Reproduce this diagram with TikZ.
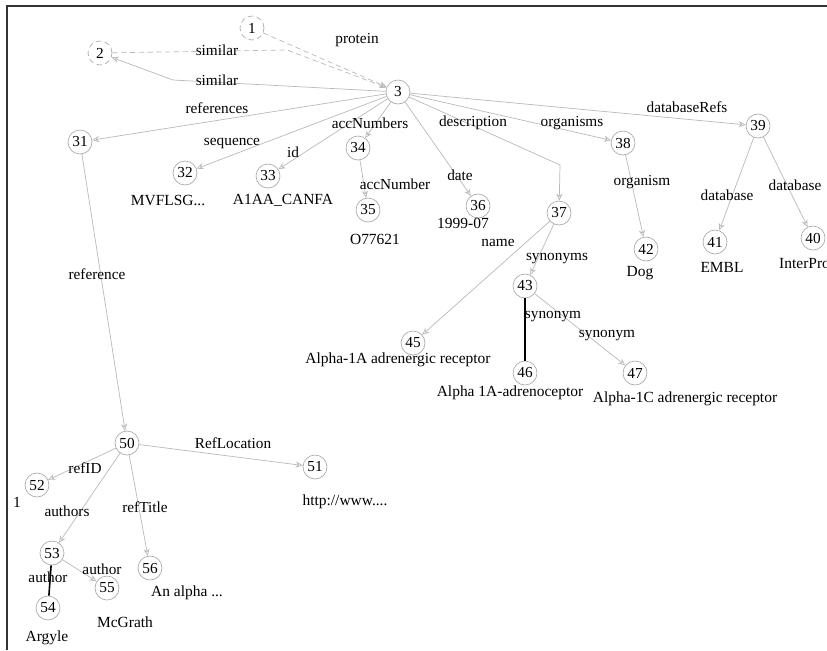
\documentclass[tikz,border=0pt]{standalone}
\usepackage{fontspec}
\setmainfont{Liberation Serif}
\usetikzlibrary{arrows.meta}

\tikzset{
  vertex/.style={circle,draw=gray!65,minimum size=0.48cm,inner sep=0pt,font=\fontsize{8.7}{9}\selectfont},
  ghost/.style={vertex,densely dashed},
  edge/.style={draw=gray!55,-{Stealth[open,length=4pt,width=3.5pt]}},
  link/.style={draw=black,line width=0.9pt},
  lbl/.style={inner sep=0.5pt,font=\fontsize{8.7}{9}\selectfont},
  val/.style={inner sep=0.5pt,font=\fontsize{8.8}{10}\selectfont}
}

\begin{document}
\begin{tikzpicture}[x=0.02cm,y=-0.02cm]

\useasboundingbox (0,0) rectangle (827,650);
% Frame:
\draw[black!80,line width=1.1pt] (7,650) -- (7,6) -- (827,6);

% Nodes:
\node[ghost] (n1) at (252,28) {1};
\node[ghost] (n2) at (100,53) {2};
\node[vertex] (n3) at (398,92) {3};
\node[vertex] (n31) at (80,142) {31};
\node[vertex] (n32) at (185,173) {32};
\node[vertex] (n33) at (268,176) {33};
\node[vertex] (n34) at (358,148) {34};
\node[vertex] (n35) at (368,210) {35};
\node[vertex] (n36) at (478,206) {36};
\node[vertex] (n37) at (559,213) {37};
\node[vertex] (n38) at (623,143) {38};
\node[vertex] (n39) at (758,126) {39};
\node[vertex] (n40) at (813,238) {40};
\node[vertex] (n41) at (715,242) {41};
\node[vertex] (n42) at (646,249) {42};
\node[vertex] (n43) at (525,286) {43};
\node[vertex] (n45) at (413,343) {45};
\node[vertex] (n46) at (525,373) {46};
\node[vertex] (n47) at (635,373) {47};
\node[vertex] (n50) at (127,443) {50};
\node[vertex] (n51) at (315,467) {51};
\node[vertex] (n52) at (37,485) {52};
\node[vertex] (n53) at (52,553) {53};
\node[vertex] (n54) at (48,608) {54};
\node[vertex] (n55) at (107,588) {55};
\node[vertex] (n56) at (150,568) {56};

% Values:
\node[val] (v32) at (168,200) {MVFLSG...};
\node[val] (v33) at (283,200) {A1AA\_CANFA};
\node[val] (v35) at (375,239) {O77621};
\node[val] (v36) at (463,223) {1999-07};
\node[val] (v45) at (398,360) {Alpha-1A adrenergic receptor};
\node[val] (v46) at (510,393) {Alpha 1A-adrenoceptor};
\node[val] (v47) at (685,399) {Alpha-1C adrenergic receptor};
\node[val] (v42) at (640,273) {Dog};
\node[val] (v41) at (722,267) {EMBL};
\node[val,anchor=west] (v40) at (778,264) {InterPro};
\node[val] (v51) at (345,502) {http://www....};
\node[val] (v52) at (17,502) {1};
\node[val] (v56) at (187,593) {An alpha ...};
\node[val] (v55) at (125,622) {McGrath};
\node[val] (v54) at (47,638) {Argyle};

% Edges:
\draw[edge,densely dashed] (n1) -- (n3);
\draw[edge,densely dashed] (n2) -- (287,50) -- (n3);
\draw[edge] (n3) -- (173,80) -- (n2);
\draw[edge] (n3) -- (n31);
\draw[edge] (n3) -- (n32);
\draw[edge] (n3) -- (n33);
\draw[edge] (n3) -- (n34);
\draw[edge] (n34) -- (n35);
\draw[edge] (n3) -- (n36);
\draw[edge] (n3) -- (560,165) -- (n37);
\draw[edge] (n3) -- (n38);
\draw[edge] (n3) -- (n39);
\draw[edge] (n38) -- (n42);
\draw[edge] (n39) -- (n41);
\draw[edge] (n39) -- (n40);
\draw[edge] (n37) -- (n45);
\draw[edge] (n37) -- (n43);
\draw[link] (n43) -- (n46);
\draw[edge] (n43) -- (n47);
\draw[edge] (n31) -- (n50);
\draw[edge] (n50) -- (n51);
\draw[edge] (n50) -- (n52);
\draw[edge] (n50) -- (n53);
\draw[edge] (n50) -- (n56);
\draw[edge] (n53) -- (n55);
\draw[link] (n53) -- (n54);

% Edge labels:
\node[lbl] (l1) at (357,40) {protein};
\node[lbl] (l2) at (217,50) {similar};
\node[lbl] (l3) at (217,80) {similar};
\node[lbl] (l4) at (217,108) {references};
\node[lbl] (l5) at (232,143) {sequence};
\node[lbl] (l6) at (293,152) {id};
\node[lbl] (l7) at (370,123) {accNumbers};
\node[lbl] (l8) at (395,184) {accNumber};
\node[lbl] (l9) at (473,123) {description};
\node[lbl] (l10) at (572,123) {organisms};
\node[lbl] (l11) at (687,107) {databaseRefs};
\node[lbl] (l12) at (460,175) {date};
\node[lbl] (l13) at (642,182) {organism};
\node[lbl] (l14) at (727,195) {database};
\node[lbl] (l15) at (795,185) {database};
\node[lbl] (l16) at (498,243) {name};
\node[lbl] (l17) at (557,259) {synonyms};
\node[lbl] (l18) at (553,317) {synonym};
\node[lbl] (l19) at (607,336) {synonym};
\node[lbl] (l20) at (97,274) {reference};
\node[lbl] (l21) at (233,443) {RefLocation};
\node[lbl] (l22) at (85,468) {refID};
\node[lbl] (l23) at (67,511) {authors};
\node[lbl] (l24) at (145,507) {refTitle};
\node[lbl] (l25) at (48,577) {author};
\node[lbl] (l26) at (102,569) {author};

\end{tikzpicture}
\end{document}
